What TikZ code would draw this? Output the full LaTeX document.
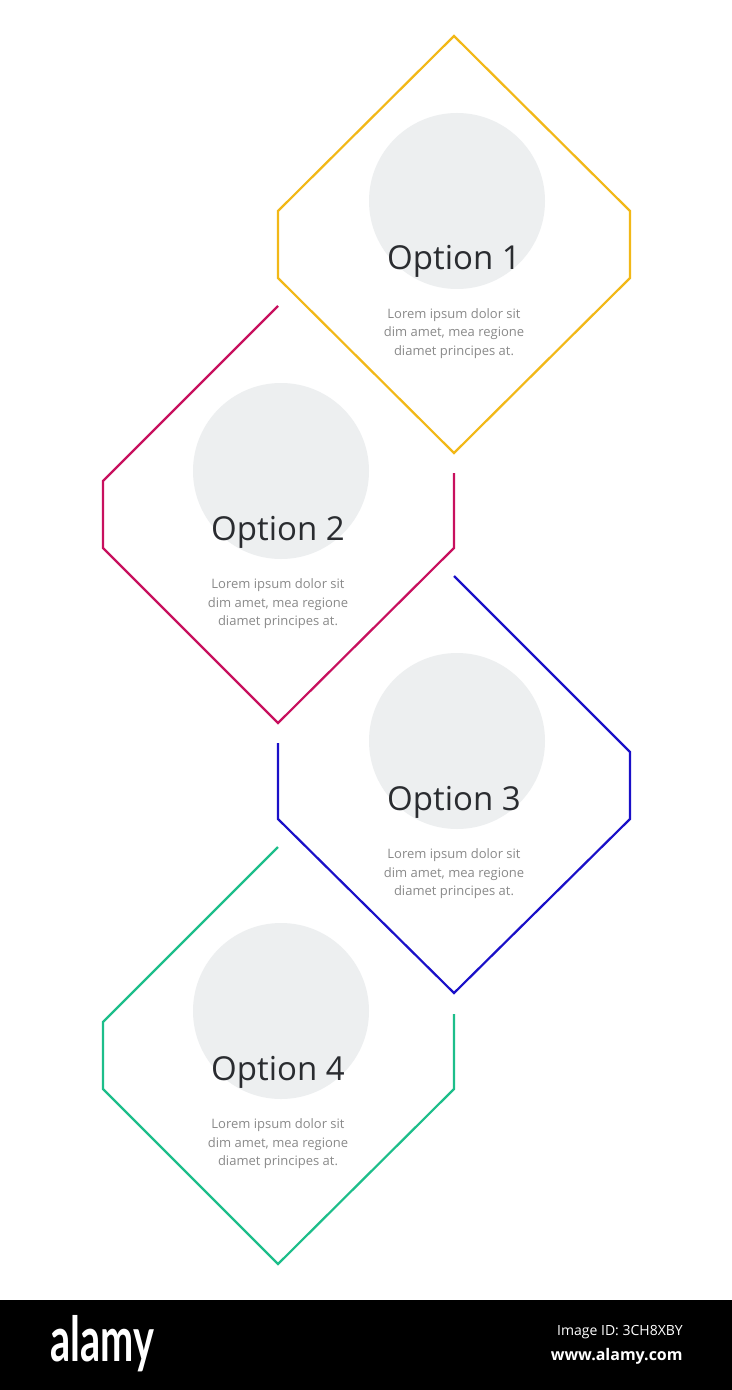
\documentclass[tikz,border=0pt]{standalone}
\usepackage{fontspec}
\setmainfont{Open Sans}
\newfontfamily\latofont{Lato}
\definecolor{cyellow}{HTML}{F2B817}
\definecolor{cmagenta}{HTML}{C8105E}
\definecolor{cblue}{HTML}{1A10C8}
\definecolor{cgreen}{HTML}{1DBE8A}
\definecolor{discgray}{HTML}{EDEFF0}
\definecolor{titlegray}{HTML}{2A2C30}
\definecolor{bodygray}{HTML}{8A8A8A}
\begin{document}
\begin{tikzpicture}[x=0.5pt,y=-0.5pt,
  hexline/.style={line width=1.1pt, line join=miter},
  disc/.style={circle, fill=discgray, minimum size=88pt, inner sep=0pt},
  titletext/.style={anchor=base, inner sep=0pt, text=titlegray, font=\fontsize{16.5}{19}\selectfont},
  bodytext/.style={inner sep=0pt, text=bodygray, align=center, font=\fontsize{6.5}{9.25}\selectfont}]
\useasboundingbox (0,0) rectangle (732,1390);
\fill[white] (0,0) rectangle (732,1390);

% ---------- Option 1 (closed, yellow)
\begin{scope}[shift={(454,244.5)}]
  \node[disc] (d1) at (3,-43.5) {};
  \draw[hexline, cyellow] (0,-208.5) -- (176,-33.5) -- (176,33.5) -- (0,208.5) -- (-176,33.5) -- (-176,-33.5) -- cycle;
  \node[titletext] (t1) at (0,25.5) {Option 1};
  \node[bodytext] (b1) at (0,89) {Lorem ipsum dolor sit\\dim amet, mea regione\\diamet principes at.};
\end{scope}

% ---------- Option 2 (open, magenta)
\begin{scope}[shift={(278,515)}]
  \node[disc] (d2) at (3,-44) {};
  \draw[hexline, cmagenta] (0,-209) -- (-175,-34) -- (-175,33) -- (0,208) -- (176,33) -- (176,-42);
  \node[titletext] (t2) at (0,25.5) {Option 2};
  \node[bodytext] (b2) at (0,89) {Lorem ipsum dolor sit\\dim amet, mea regione\\diamet principes at.};
\end{scope}

% ---------- Option 3 (open, blue)
\begin{scope}[shift={(454,785)}]
  \node[disc] (d3) at (3,-44) {};
  \draw[hexline, cblue] (0,-209) -- (176,-33) -- (176,34) -- (0,208) -- (-176,34) -- (-176,-42);
  \node[titletext] (t3) at (0,25.5) {Option 3};
  \node[bodytext] (b3) at (0,89) {Lorem ipsum dolor sit\\dim amet, mea regione\\diamet principes at.};
\end{scope}

% ---------- Option 4 (open, green)
\begin{scope}[shift={(278,1055)}]
  \node[disc] (d4) at (3,-44) {};
  \draw[hexline, cgreen] (0,-208) -- (-175,-33) -- (-175,34) -- (0,209) -- (176,34) -- (176,-41);
  \node[titletext] (t4) at (0,25.5) {Option 4};
  \node[bodytext] (b4) at (0,89) {Lorem ipsum dolor sit\\dim amet, mea regione\\diamet principes at.};
\end{scope}

% ---------- watermark band
\fill[black] (0,1300) rectangle (732,1390);
\node[anchor=base west, inner sep=0pt, text=white, xscale=0.64, font=\latofont\bfseries\fontsize{31}{33}\selectfont] (logo) at (50,1361) {alamy};
\node[anchor=east, inner sep=0pt, text=white, font=\fontsize{7}{8}\selectfont] (imgid) at (683,1332) {Image ID: 3CH8XBY};
\node[anchor=east, inner sep=0pt, text=white, font=\bfseries\fontsize{8}{9}\selectfont] (web) at (683,1356) {www.alamy.com};
\end{tikzpicture}
\end{document}
